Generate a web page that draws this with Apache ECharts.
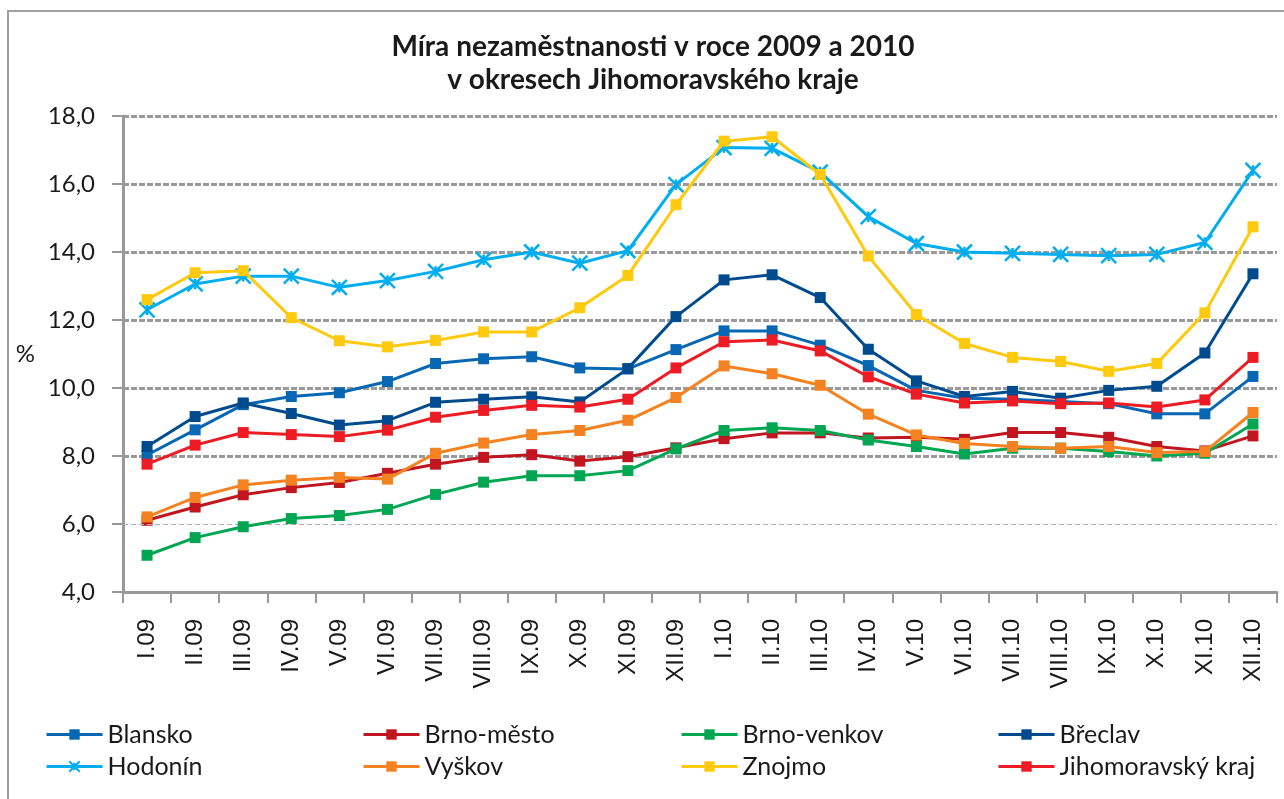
<!DOCTYPE html>
<html>
<head>
<meta charset="utf-8">
<script src="https://cdn.jsdelivr.net/npm/echarts@6/dist/echarts.min.js"></script>
<style>html,body{margin:0;padding:0;background:#fff}#c{width:1284px;height:799px}</style>
</head>
<body>
<div id="c"></div>
<script>
const categories = ['I.09','II.09','III.09','IV.09','V.09','VI.09','VII.09','VIII.09','IX.09','X.09','XI.09','XII.09',
  'I.10','II.10','III.10','IV.10','V.10','VI.10','VII.10','VIII.10','IX.10','X.10','XI.10','XII.10'];
const blansko = [8.03,8.77,9.51,9.75,9.86,10.19,10.72,10.86,10.92,10.59,10.56,11.13,11.68,11.68,11.26,10.66,9.93,9.70,9.67,9.60,9.54,9.24,9.24,10.34];
const brnoMesto = [6.11,6.50,6.86,7.07,7.22,7.49,7.76,7.96,8.04,7.85,7.98,8.24,8.51,8.68,8.68,8.53,8.55,8.49,8.69,8.69,8.55,8.28,8.15,8.59];
const brnoVenkov = [5.08,5.60,5.92,6.16,6.25,6.43,6.87,7.23,7.42,7.42,7.57,8.21,8.75,8.83,8.75,8.47,8.28,8.06,8.23,8.23,8.13,8.00,8.08,8.94];
const breclav = [8.28,9.16,9.56,9.25,8.91,9.04,9.58,9.67,9.74,9.59,10.57,12.10,13.18,13.33,12.66,11.14,10.21,9.75,9.90,9.70,9.93,10.05,11.03,13.36];
const hodonin = [12.30,13.06,13.29,13.29,12.96,13.16,13.43,13.77,14.00,13.67,14.04,15.98,17.07,17.05,16.35,15.04,14.25,14.00,13.96,13.93,13.89,13.93,14.28,16.40];
const vyskov = [6.21,6.78,7.15,7.29,7.37,7.32,8.08,8.38,8.63,8.75,9.05,9.72,10.65,10.42,10.08,9.23,8.62,8.37,8.28,8.23,8.28,8.10,8.13,9.28];
const znojmo = [12.60,13.39,13.45,12.07,11.39,11.21,11.40,11.65,11.65,12.36,13.31,15.39,17.26,17.39,16.28,13.88,12.16,11.31,10.90,10.78,10.49,10.72,12.21,14.74];
const jmk = [7.76,8.32,8.69,8.63,8.57,8.76,9.14,9.34,9.49,9.44,9.67,10.59,11.36,11.41,11.09,10.33,9.82,9.56,9.62,9.54,9.56,9.44,9.65,10.90];
const yTicks = {min: 4, max: 18, interval: 2};

const seriesDefs = [
  {name:'Blansko', data: blansko, color:'#0867b2'},
  {name:'Brno-město', data: brnoMesto, color:'#c1161f'},
  {name:'Brno-venkov', data: brnoVenkov, color:'#00a651'},
  {name:'Břeclav', data: breclav, color:'#004b8d'},
  {name:'Hodonín', data: hodonin, color:'#00aeef', star:true},
  {name:'Vyškov', data: vyskov, color:'#f58220'},
  {name:'Znojmo', data: znojmo, color:'#ffc90e'},
  {name:'Jihomoravský kraj', data: jmk, color:'#ed1c24'}
];

const starPath = 'path://M0,0L10,10M10,0L0,10M5,1.5L5,8.5';

const series = seriesDefs.map((s, i) => {
  const o = {
    name: s.name, type: 'line', data: s.data, color: s.color,
    lineStyle: {width: 3, color: s.color},
    symbol: s.star ? starPath : 'rect',
    symbolSize: s.star ? 15 : 11,
    showSymbol: true,
    itemStyle: s.star ? {color: 'rgba(0,0,0,0)', borderColor: s.color, borderWidth: 2.5} : {color: s.color},
    z: 3 + i
  };
  if (i === 0) {
    o.markLine = {
      silent: true, symbol: 'none', label: {show: false},
      lineStyle: {type: [5, 3], color: '#b0b0b0', width: 1},
      emphasis: {disabled: true},
      data: [{yAxis: 6}]
    };
  }
  return o;
});

const legendFont = {fontFamily: 'Lato', fontSize: 25, color: '#1a1a1a'};
const cols = [[0,4],[1,5],[2,6],[3,7]];
const colLeft = [45, 362, 680, 997];
const legends = cols.map((c, k) => ({
  orient: 'vertical', left: colLeft[k], top: 722, itemGap: 7, padding: 0,
  itemWidth: 56, itemHeight: 13,
  lineStyle: {width: 3},
  textStyle: legendFont,
  data: c.map(i => seriesDefs[i].name),
  selectedMode: false
}));

const chart = echarts.init(document.getElementById('c'), null, {renderer: 'canvas'});
chart.setOption({
  backgroundColor: '#fff',
  animation: false,
  graphic: [
    {type: 'rect', shape: {x: 8, y: 11, width: 1400, height: 1000},
     style: {fill: 'none', stroke: '#a0a0a0', lineWidth: 2}, silent: true, z: -1},
    {type: 'text', x: 653, y: 47,
     style: {text: 'Míra nezaměstnanosti v roce 2009 a 2010', fontFamily: 'Lato', fontWeight: 'bold', fontSize: 28,
             fill: '#1a1a1a', textAlign: 'center', textVerticalAlign: 'middle'}},
    {type: 'text', x: 653, y: 80,
     style: {text: 'v okresech Jihomoravského kraje', fontFamily: 'Lato', fontWeight: 'bold', fontSize: 28,
             fill: '#1a1a1a', textAlign: 'center', textVerticalAlign: 'middle'}}
  ],
  legend: legends,
  grid: {left: 123, right: 7, top: 116, bottom: 207, containLabel: false},
  xAxis: {
    type: 'category', data: categories, boundaryGap: true,
    axisLine: {lineStyle: {color: '#999', width: 3}},
    axisTick: {show: true, length: 11, interval: 0, lineStyle: {color: '#999', width: 2}},
    axisLabel: {rotate: 90, interval: 0, margin: 27, fontFamily: 'Liberation Sans', fontSize: 24, color: '#1a1a1a'},
    splitLine: {show: false}
  },
  yAxis: {
    type: 'value', min: yTicks.min, max: yTicks.max, interval: yTicks.interval,
    name: '%', nameLocation: 'middle', nameRotate: 0, nameGap: 88,
    nameTextStyle: {fontFamily: 'Lato', fontSize: 24, color: '#1a1a1a'},
    axisLine: {show: true, lineStyle: {color: '#999', width: 3}},
    axisTick: {show: true, length: 11, lineStyle: {color: '#999', width: 2}},
    axisLabel: {margin: 28, fontFamily: 'Lato', fontSize: 24, color: '#1a1a1a',
      formatter: v => v.toFixed(1).replace('.', ',')},
    splitLine: {show: true, lineStyle: {type: [6, 2], width: 3,
      color: ['rgba(0,0,0,0)', 'rgba(0,0,0,0)', '#9a9a9a', '#9a9a9a', '#9a9a9a', '#9a9a9a', '#9a9a9a', '#9a9a9a']}}
  },
  series: series
});
</script>
</body>
</html>
